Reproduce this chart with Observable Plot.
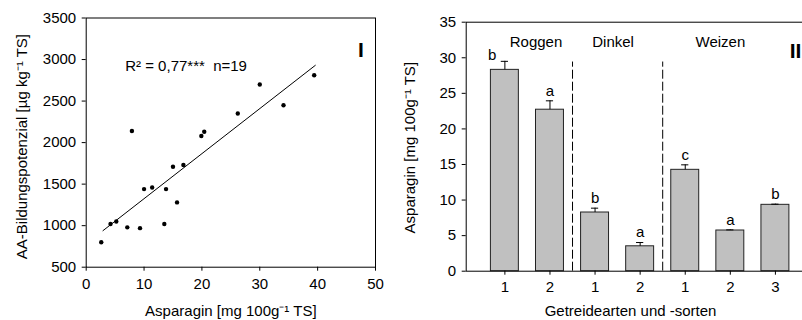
<!DOCTYPE html>
<html>
<head>
<meta charset="utf-8">
<script src="https://cdn.jsdelivr.net/npm/d3@7"></script>
<script src="https://cdn.jsdelivr.net/npm/@observablehq/plot@0.6"></script>
<style>
  html, body { margin: 0; padding: 0; background: #fff; }
  #wrap { position: relative; width: 802px; height: 320px; overflow: hidden; background: #fff; }
  #left { position: absolute; left: 0; top: 0; width: 400px; height: 320px; }
  #right { position: absolute; left: 400px; top: 0; width: 420px; height: 320px; }
  #wrap svg { max-width: none !important; display: block; }
</style>
</head>
<body>
<div id="wrap"><div id="left"></div><div id="right"></div></div>
<script>
// ---- Panel I: scatter ----
const asparagin = [2.6, 4.2, 5.2, 7.1, 7.9, 9.3, 10.0, 11.4, 13.5, 13.8, 15.0, 15.7, 16.8, 19.9, 20.4, 26.2, 30.0, 34.1, 39.4];
const aaPotential = [800, 1020, 1050, 980, 2140, 970, 1440, 1460, 1020, 1440, 1710, 1280, 1730, 2080, 2130, 2350, 2700, 2450, 2810];
const fitX = [2.9, 39.6];
const fitY = [940, 2930];
const leftXTicks = [0, 10, 20, 30, 40, 50];
const leftYTicks = [500, 1000, 1500, 2000, 2500, 3000, 3500];
const leftXLabel = "Asparagin [mg 100g\u207B\u00B9 TS]";
const leftYLabel = "AA-Bildungspotenzial [\u00B5g kg\u207B\u00B9 TS]";
const statText = "R\u00B2 = 0,77***\u00A0\u00A0n=19";
const panelI = "I";

// ---- Panel II: bars ----
const barPos = [1, 2, 3, 4, 5, 6, 7];
const barTickLabels = ["1", "2", "1", "2", "1", "2", "3"];
const barValues = [28.3, 22.7, 8.25, 3.5, 14.25, 5.72, 9.33];
const barErrTop = [29.5, 23.95, 8.86, 4.03, 14.95, 5.81, 9.42];
const barLetters = ["b", "a", "b", "a", "c", "a", "b"];
const groups = ["Roggen", "Dinkel", "Weizen"];
const groupLabelX = [1.69, 3.40, 5.78];
const dividers = [2.5, 4.5];
const rightYTicks = [0, 5, 10, 15, 20, 25, 30, 35];
const rightXLabel = "Getreidearten und -sorten";
const rightYLabel = "Asparagin [mg 100g\u207B\u00B9 TS]";
const panelII = "II";

const font = "'Liberation Sans', Arial, Helvetica, sans-serif";
const style = { fontFamily: font, fontSize: "15px", color: "#000", background: "transparent", overflow: "visible" };

const scatter = asparagin.map((x, i) => ({ x, y: aaPotential[i] }));
const fit = fitX.map((x, i) => ({ x, y: fitY[i] }));

const left = Plot.plot({
  width: 400, height: 320,
  marginLeft: 85.7, marginRight: 25, marginTop: 17.5, marginBottom: 53.3,
  style,
  x: { domain: [0, 50] },
  y: { domain: [500, 3500] },
  marks: [
    Plot.frame({ stroke: "#000", strokeWidth: 1 }),
    Plot.axisX({ ticks: leftXTicks, tickSize: 4, tickPadding: 7, label: null, tickFormat: d => String(d) }),
    Plot.axisY({ ticks: leftYTicks, tickSize: 4, tickPadding: 6, label: null, tickFormat: d => String(d) }),
    Plot.line(fit, { x: "x", y: "y", stroke: "#000", strokeWidth: 1 }),
    Plot.dot(scatter, { x: "x", y: "y", r: 2.2, fill: "#000", stroke: "none" }),
    Plot.text([statText], { frameAnchor: "top-left", dx: 39, dy: 48, textAnchor: "start", lineAnchor: "middle", fontSize: 15 }),
    Plot.text([panelI], { frameAnchor: "top-right", dx: -14.5, dy: 32, textAnchor: "middle", lineAnchor: "middle", fontSize: 21, fontWeight: "bold" }),
    Plot.text([leftXLabel], { frameAnchor: "bottom", dy: 43.5, textAnchor: "middle", lineAnchor: "middle", fontSize: 15 }),
    Plot.text([leftYLabel], { frameAnchor: "left", dx: -64.5, dy: 4, rotate: -90, textAnchor: "middle", lineAnchor: "middle", fontSize: 15 })
  ]
});
document.getElementById("left").appendChild(left);

const bars = barPos.map((p, i) => ({ p, v: barValues[i], e: barErrTop[i], l: barLetters[i] }));
const groupData = groups.map((g, i) => ({ g, x: groupLabelX[i] }));

const right = Plot.plot({
  width: 420, height: 320,
  marginLeft: 65.7, marginRight: 6.4, marginTop: 21.7, marginBottom: 49.3,
  style,
  x: { domain: [0.142, 7.858] },
  y: { domain: [0, 35] },
  marks: [
    Plot.rectY(bars, { x1: d => d.p - 0.31, x2: d => d.p + 0.31, y1: 0, y2: "v", fill: "#c0c0c0", stroke: "#222", strokeWidth: 1 }),
    Plot.ruleX(bars, { x: "p", y1: "v", y2: "e", stroke: "#000", strokeWidth: 1 }),
    Plot.ruleY(bars, { y: "e", x1: d => d.p - 0.08, x2: d => d.p + 0.08, stroke: "#000", strokeWidth: 1 }),
    Plot.ruleX(dividers, { x: d => d, y1: 0, y2: 29.4, stroke: "#000", strokeWidth: 1, strokeDasharray: "9,3" }),
    Plot.frame({ stroke: "#000", strokeWidth: 1 }),
    Plot.axisX({ ticks: barPos, tickSize: 4, tickPadding: 6, label: null, tickFormat: d => barTickLabels[d - 1] }),
    Plot.axisY({ ticks: rightYTicks, tickSize: 4, tickPadding: 6, label: null, tickFormat: d => String(d) }),
    Plot.text(bars.filter((d, i) => i > 0), { x: "p", y: "e", text: "l", dy: -10, lineAnchor: "middle", textAnchor: "middle", fontSize: 15 }),
    Plot.text(bars.filter((d, i) => i === 0), { x: "p", y: "e", text: "l", dy: -6, dx: -12.6, lineAnchor: "middle", textAnchor: "middle", fontSize: 15 }),
    Plot.text(groupData, { x: "x", text: "g", frameAnchor: "top", dy: 20, lineAnchor: "middle", textAnchor: "middle", fontSize: 15 }),
    Plot.text([panelII], { frameAnchor: "top-left", dx: 323.5, dy: 29.5, textAnchor: "start", lineAnchor: "middle", fontSize: 21, fontWeight: "bold" }),
    Plot.text([rightXLabel], { frameAnchor: "bottom", dx: -9.6, dy: 39.5, textAnchor: "middle", lineAnchor: "middle", fontSize: 15 }),
    Plot.text([rightYLabel], { frameAnchor: "left", dx: -55.7, dy: 1, rotate: -90, textAnchor: "middle", lineAnchor: "middle", fontSize: 15 })
  ]
});
document.getElementById("right").appendChild(right);
</script>
</body>
</html>
